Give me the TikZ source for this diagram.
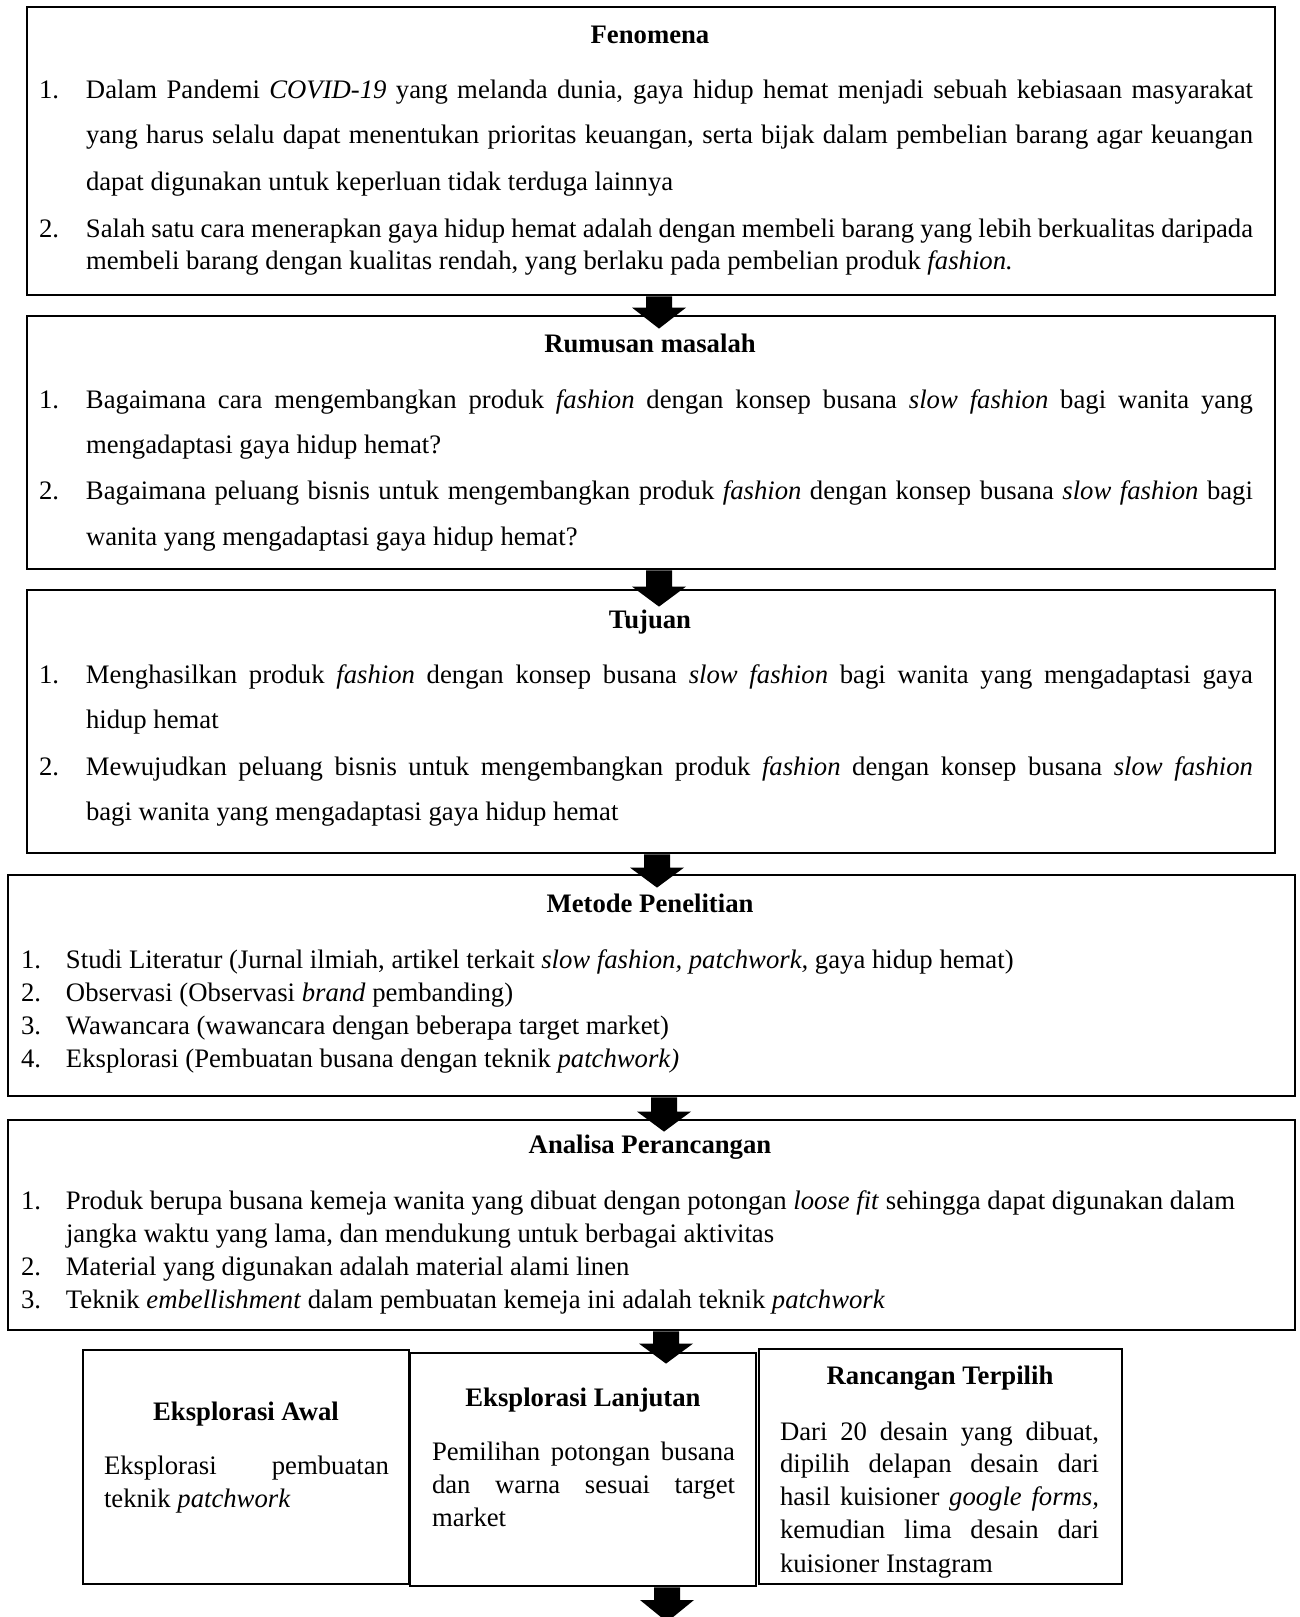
\documentclass[tikz,border=0pt]{standalone}
\usepackage{fontspec}
\setmainfont{Liberation Serif}
\usetikzlibrary{calc}
\newcommand\jl[2]{\makebox[#1pt][s]{#2}}
\newcommand\nm[1]{\makebox[47pt][l]{#1}}
\newcommand\nmb[1]{\makebox[45pt][l]{#1}}
\newcommand\blockarrow[3]{%
  \fill let \p1=(#1), \p2=(#2) in
  (\x1-13pt,\y1) -- (\x1+13pt,\y1) -- (\x1+13pt,\y2+#3pt) -- (\x1+27pt,\y2+#3pt)
  -- (\x1,\y2) -- (\x1-27pt,\y2+#3pt) -- (\x1-13pt,\y2+#3pt) -- cycle;}
\begin{document}
\begin{tikzpicture}[x=1pt,y=-1pt,
  boxs/.style={draw=black,line width=2.8pt,rectangle,inner sep=0pt},
  txt/.style={anchor=base west,inner sep=0pt,outer sep=0pt,font=\fontsize{26.7}{33}\selectfont},
  ttl/.style={anchor=base,inner sep=0pt,outer sep=0pt,font=\fontsize{26.7}{33}\selectfont\bfseries}]
\useasboundingbox (0,0) rectangle (1299,1617);
\fill[white] (0,0) rectangle (1299,1617);
% boxes
\node[boxs,minimum width=1248pt,minimum height=288pt] (b1) at (651,151) {};
\node[boxs,minimum width=1248pt,minimum height=253pt] (b2) at (651,442.5) {};
\node[boxs,minimum width=1248pt,minimum height=263pt] (b3) at (651,721.5) {};
\node[boxs,minimum width=1287pt,minimum height=221pt] (b4) at (651.5,985.5) {};
\node[boxs,minimum width=1287pt,minimum height=210pt] (b5) at (651.5,1225) {};
\node[boxs,minimum width=326pt,minimum height=234pt] (bA) at (246,1467) {};
\node[boxs,minimum width=346pt,minimum height=233pt] (bB) at (583,1469.5) {};
\node[boxs,minimum width=363pt,minimum height=235pt] (bC) at (940.5,1466.5) {};
% box 1
\node[ttl] (t1) at (650,43) {Fenomena};
\node[txt] (f1) at (39,98) {\nm{1.}\jl{1167}{Dalam Pandemi \textit{COVID-19} yang melanda dunia, gaya hidup hemat menjadi sebuah kebiasaan masyarakat}};
\node[txt] (f2) at (86,143) {\jl{1167}{yang harus selalu dapat menentukan prioritas keuangan, serta bijak dalam pembelian barang agar keuangan}};
\node[txt] (f3) at (86,190.5) {dapat digunakan untuk keperluan tidak terduga lainnya};
\node[txt] (f4) at (39,237) {\nm{2.}\jl{1167}{Salah satu cara menerapkan gaya hidup hemat adalah dengan membeli barang yang lebih berkualitas daripada}};
\node[txt] (f5) at (86,269) {membeli barang dengan kualitas rendah, yang berlaku pada pembelian produk \textit{fashion.}};
% box 2
\node[ttl] (t2) at (650,352) {Rumusan masalah};
\node[txt] (r1) at (39,408) {\nm{1.}\jl{1167}{Bagaimana cara mengembangkan produk \textit{fashion} dengan konsep busana \textit{slow fashion} bagi wanita yang}};
\node[txt] (r2) at (86,453.4) {mengadaptasi gaya hidup hemat?};
\node[txt] (r3) at (39,499.8) {\nm{2.}\jl{1167}{Bagaimana peluang bisnis untuk mengembangkan produk \textit{fashion} dengan konsep busana \textit{slow fashion} bagi}};
\node[txt] (r4) at (86,545) {wanita yang mengadaptasi gaya hidup hemat?};
% box 3
\node[ttl] (t3) at (650,628.7) {Tujuan};
\node[txt] (u1) at (39,683.3) {\nm{1.}\jl{1167}{Menghasilkan produk \textit{fashion} dengan konsep busana \textit{slow fashion} bagi wanita yang mengadaptasi gaya}};
\node[txt] (u2) at (86,728.7) {hidup hemat};
\node[txt] (u3) at (39,775) {\nm{2.}\jl{1167}{Mewujudkan peluang bisnis untuk mengembangkan produk \textit{fashion} dengan konsep busana \textit{slow fashion}}};
\node[txt] (u4) at (86,820.4) {bagi wanita yang mengadaptasi gaya hidup hemat};
% box 4
\node[ttl] (t4) at (650,912) {Metode Penelitian};
\node[txt] (m1) at (21,968) {\nmb{1.}Studi Literatur (Jurnal ilmiah, artikel terkait \textit{slow fashion, patchwork,} gaya hidup hemat)};
\node[txt] (m2) at (21,1001) {\nmb{2.}Observasi (Observasi \textit{brand} pembanding)};
\node[txt] (m3) at (21,1034) {\nmb{3.}Wawancara (wawancara dengan beberapa target market)};
\node[txt] (m4) at (21,1067) {\nmb{4.}Eksplorasi (Pembuatan busana dengan teknik \textit{patchwork)}};
% box 5
\node[ttl] (t5) at (650,1153.4) {Analisa Perancangan};
\node[txt] (a1) at (21,1209) {\nmb{1.}Produk berupa busana kemeja wanita yang dibuat dengan potongan \textit{loose fit} sehingga dapat digunakan dalam};
\node[txt] (a2) at (66,1242) {jangka waktu yang lama, dan mendukung untuk berbagai aktivitas};
\node[txt] (a3) at (21,1275) {\nmb{2.}Material yang digunakan adalah material alami linen};
\node[txt] (a4) at (21,1308) {\nmb{3.}Teknik \textit{embellishment} dalam pembuatan kemeja ini adalah teknik \textit{patchwork}};
% box A
\node[ttl] (tA) at (246,1420.5) {Eksplorasi Awal};
\node[txt] (e1) at (104,1474) {\jl{285}{Eksplorasi pembuatan}};
\node[txt] (e2) at (104,1507) {teknik \textit{patchwork}};
% box B
\node[ttl] (tB) at (583,1406) {Eksplorasi Lanjutan};
\node[txt] (l1) at (432,1460.7) {\jl{303}{Pemilihan potongan busana}};
\node[txt] (l2) at (432,1493.7) {\jl{303}{dan warna sesuai target}};
\node[txt] (l3) at (432,1526.7) {market};
% box C
\node[ttl] (tC) at (940,1384.4) {Rancangan Terpilih};
\node[txt] (c1) at (780,1440) {\jl{319}{Dari 20 desain yang dibuat,}};
\node[txt] (c2) at (780,1472) {\jl{319}{dipilih delapan desain dari}};
\node[txt] (c3) at (780,1505) {\jl{319}{hasil kuisioner \textit{google forms,}}};
\node[txt] (c4) at (780,1538) {\jl{319}{kemudian lima desain dari}};
\begin{scope}
\clip (bC.north west) rectangle (bC.south east);
\node[txt] (c5) at (780,1572) {kuisioner Instagram};
\end{scope}
\node[boxs,minimum width=363pt,minimum height=235pt] (bCline) at (940.5,1466.5) {};
% arrows
\coordinate (ax1) at (659,0);
\coordinate (ax2) at (659,0);
\coordinate (ax3) at (657,0);
\coordinate (ax4) at (664,0);
\coordinate (ax5) at (666,0);
\coordinate (ax6) at (667,0);
\coordinate (endarrow) at (667,1622);
\blockarrow{b1.south -| ax1}{$(b2.north -| ax1)+(0,14)$}{21}
\blockarrow{b2.south -| ax2}{$(b3.north -| ax2)+(0,18)$}{20}
\blockarrow{b3.south -| ax3}{$(b4.north -| ax3)+(0,14)$}{20}
\blockarrow{b4.south -| ax4}{$(b5.north -| ax4)+(0,13)$}{20}
\blockarrow{b5.south -| ax5}{$(bB.north -| ax5)+(0,12)$}{20}
\blockarrow{bB.south -| ax6}{endarrow}{22}
\end{tikzpicture}
\end{document}
